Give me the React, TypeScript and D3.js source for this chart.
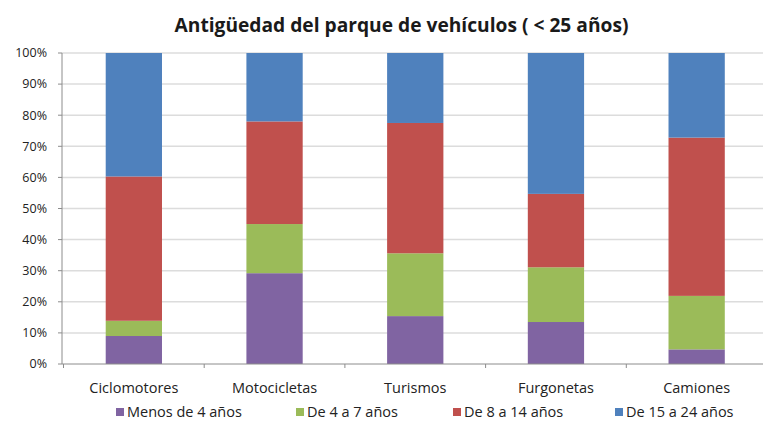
import React, { useEffect, useRef } from 'react'
import * as d3 from 'd3'

// vehicle types along the x axis
const categories = ['Ciclomotores', 'Motocicletas', 'Turismos', 'Furgonetas', 'Camiones']
const seriesNames = ['Menos de 4 años', 'De 4 a 7 años', 'De 8 a 14 años', 'De 15 a 24 años']
const colors = ['#8064A2', '#9BBB59', '#C0504D', '#4F81BD']

// shares (%) per age band, in category order
const menos4 = [9.0, 29.2, 15.4, 13.5, 4.7]
const de4a7 = [4.9, 15.8, 20.2, 17.6, 17.2]
const de8a14 = [46.4, 33.0, 41.9, 23.6, 50.9]
const de15a24 = [39.7, 22.0, 22.5, 45.3, 27.2]

const yTicks = [0, 10, 20, 30, 40, 50, 60, 70, 80, 90, 100]

const W = 763
const H = 421

function drawChart(el: SVGSVGElement) {
  const svg = d3.select(el)
  svg.selectAll('*').remove()

  const font = '"Open Sans", Lato, sans-serif'
  const rows = categories.map((c, i) => ({
    cat: c,
    s0: menos4[i], s1: de4a7[i], s2: de8a14[i], s3: de15a24[i],
  }))
  const keys = ['s0', 's1', 's2', 's3']
  const stacked = d3.stack<any>().keys(keys)(rows)

  const y = d3.scaleLinear().domain([0, 100]).range([364, 53])
  const x = d3.scaleBand().domain(categories).range([63.5, 767]).paddingInner(0.6).paddingOuter(0.3)
  const left = 62

  // gridlines
  svg.append('g')
    .selectAll('line')
    .data(yTicks.slice(1))
    .join('line')
    .attr('x1', left).attr('x2', W)
    .attr('y1', d => y(d)).attr('y2', d => y(d))
    .attr('stroke', '#dcdcdc').attr('stroke-width', 1.5)

  // bars
  svg.append('g')
    .selectAll('g')
    .data(stacked)
    .join('g')
    .attr('fill', (d, i) => colors[i])
    .selectAll('rect')
    .data(d => d)
    .join('rect')
    .attr('x', d => x(d.data.cat)!)
    .attr('width', x.bandwidth())
    .attr('y', d => y(d[1]))
    .attr('height', d => y(d[0]) - y(d[1]))

  // y axis
  const yAxis = svg.append('g')
  yAxis.append('line')
    .attr('x1', left).attr('x2', left).attr('y1', y(0)).attr('y2', y(100))
    .attr('stroke', '#8c8c8c')
  yAxis.selectAll('line.tick')
    .data(yTicks)
    .join('line')
    .attr('class', 'tick')
    .attr('x1', left - 4).attr('x2', left)
    .attr('y1', d => y(d)).attr('y2', d => y(d))
    .attr('stroke', '#8c8c8c')
  yAxis.selectAll('text')
    .data(yTicks)
    .join('text')
    .attr('x', 47).attr('y', d => y(d))
    .attr('dy', '0.35em')
    .attr('text-anchor', 'end')
    .attr('font-family', font).attr('font-size', 12.5)
    .attr('fill', '#222')
    .text(d => d + '%')

  // x axis
  const step = x.step()
  const x0 = x.range()[0]
  svg.append('line')
    .attr('x1', left).attr('x2', W).attr('y1', y(0)).attr('y2', y(0))
    .attr('stroke', '#8c8c8c')
  svg.append('g')
    .selectAll('line')
    .data(d3.range(categories.length + 1))
    .join('line')
    .attr('x1', i => x0 + i * step).attr('x2', i => x0 + i * step)
    .attr('y1', y(0)).attr('y2', y(0) + 4)
    .attr('stroke', '#8c8c8c')
  svg.append('g')
    .selectAll('text')
    .data(categories)
    .join('text')
    .attr('x', d => x(d)! + x.bandwidth() / 2)
    .attr('y', 388).attr('dy', '0.35em')
    .attr('text-anchor', 'middle')
    .attr('font-family', font).attr('font-size', 14.5)
    .attr('fill', '#222')
    .text(d => d)

  // legend
  const legendX = [116, 296, 453, 615]
  const legend = svg.append('g')
    .selectAll('g')
    .data(seriesNames)
    .join('g')
    .attr('transform', (d, i) => `translate(${legendX[i]},412)`)
  legend.append('rect')
    .attr('x', 0).attr('y', -4).attr('width', 8).attr('height', 8)
    .attr('fill', (d, i) => colors[i])
  legend.append('text')
    .attr('x', 11).attr('y', 0).attr('dy', '0.35em')
    .attr('font-family', font).attr('font-size', 14.5)
    .attr('fill', '#222')
    .text(d => d)

  // title
  svg.append('text')
    .attr('x', 401.5).attr('y', 25)
    .attr('dy', '0.35em')
    .attr('text-anchor', 'middle')
    .attr('font-family', font).attr('font-weight', 'bold').attr('font-size', 19.2)
    .attr('fill', '#1a1a1a')
    .text('Antigüedad del parque de vehículos ( < 25 años)')
}

export default function App() {
  const ref = useRef<SVGSVGElement>(null)
  useEffect(() => {
    document.body.style.margin = '0'
    if (ref.current) drawChart(ref.current)
  }, [])
  return (
    <svg ref={ref} width={W} height={H} style={{ display: 'block', background: '#fff' }}></svg>
  )
}
